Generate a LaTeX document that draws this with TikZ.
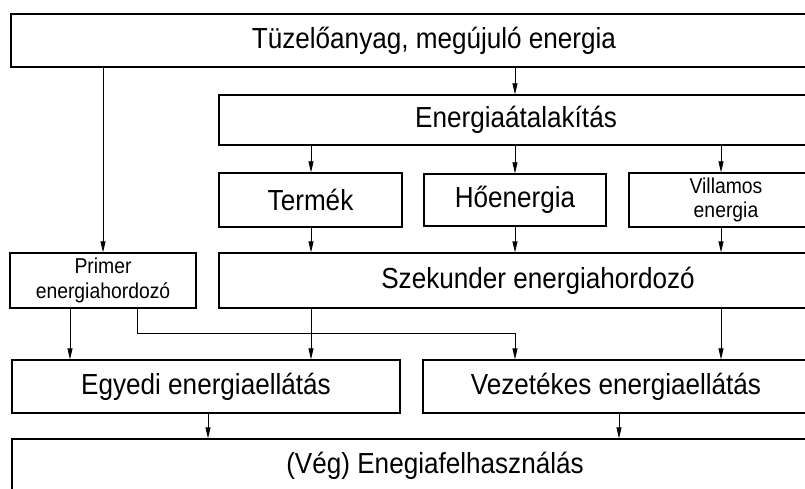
\documentclass[tikz,border=0pt]{standalone}
\usepackage{fontspec}
\setmainfont{Liberation Sans}[FakeStretch=0.9]
\usetikzlibrary{arrows.meta}
\tikzset{
  box/.style={draw=black, line width=1.3pt, fill=white, inner sep=0pt, align=center,
              font=\fontsize{29}{32}\selectfont},
  smallbox/.style={box, font=\fontsize{21.5}{24.5}\selectfont},
  link/.style={draw=black, line width=0.8pt},
  arr/.style={link, -{Triangle[length=11pt,width=5pt]}}
}
\begin{document}
\begin{tikzpicture}[x=1pt,y=-1pt]
  \useasboundingbox (0,0) rectangle (805,489);
  \clip (0,0) rectangle (805,489);
  \fill[white] (0,0) rectangle (805,489);

  % columns used by the vertical connectors
  \coordinate (cA) at (70,0);
  \coordinate (cC) at (137,0);
  \coordinate (cD) at (208,0);
  \coordinate (c1) at (311,0);
  \coordinate (c2) at (515,0);
  \coordinate (c3) at (721,0);
  \coordinate (cE) at (619,0);

  % boxes (some run past the right and bottom edges)
  \node[box, minimum width=846pt, minimum height=53pt] (top)  at (434,40.5) {Tüzelőanyag, megújuló energia};
  \node[box, minimum width=594pt, minimum height=50pt] (conv) at (516,120) {Energiaátalakítás};
  \node[box, minimum width=183pt, minimum height=54pt] (prod) at (310.5,200) {Termék};
  \node[box, minimum width=182pt, minimum height=52pt] (heat) at (515,200) {Hőenergia};
  \node[smallbox, minimum width=194pt, minimum height=54pt] (elec) at (726,200) {Villamos\\energia};
  \node[smallbox, minimum width=186pt, minimum height=55pt] (prim) at (103,280.5) {Primer\\energiahordozó};
  \node[box, minimum width=638pt, minimum height=55pt] (sec)  at (538,280.5) {Szekunder energiahordozó};
  \node[box, minimum width=388pt, minimum height=53pt] (ind)  at (206,386.5) {Egyedi energiaellátás};
  \node[box, minimum width=386pt, minimum height=53pt] (grid) at (616,386.5) {Vezetékes energiaellátás};
  \node[box, minimum width=846pt, minimum height=53pt] (use)  at (435,465.5) {(Vég) Enegiafelhasználás};

  % connectors
  \draw[arr] (top.south -| prim.north) -- (prim.north);
  \draw[arr] (top.south -| c2) -- (conv.north -| c2);

  \draw[arr] (conv.south -| c1) -- (prod.north -| c1);
  \draw[arr] (conv.south -| c2) -- (heat.north -| c2);
  \draw[arr] (conv.south -| c3) -- (elec.north -| c3);

  \draw[arr] (prod.south -| c1) -- (sec.north -| c1);
  \draw[arr] (heat.south -| c2) -- (sec.north -| c2);
  \draw[arr] (elec.south -| c3) -- (sec.north -| c3);

  \draw[arr] (prim.south -| cA) -- (ind.north -| cA);
  \draw[arr] (prim.south -| cC) -- ++(0,25) -| (grid.north -| c2);

  \draw[arr] (sec.south -| c1) -- (ind.north -| c1);
  \draw[arr] (sec.south -| c3) -- (grid.north -| c3);

  \draw[arr] (ind.south -| cD) -- (use.north -| cD);
  \draw[arr] (grid.south -| cE) -- (use.north -| cE);
\end{tikzpicture}
\end{document}
